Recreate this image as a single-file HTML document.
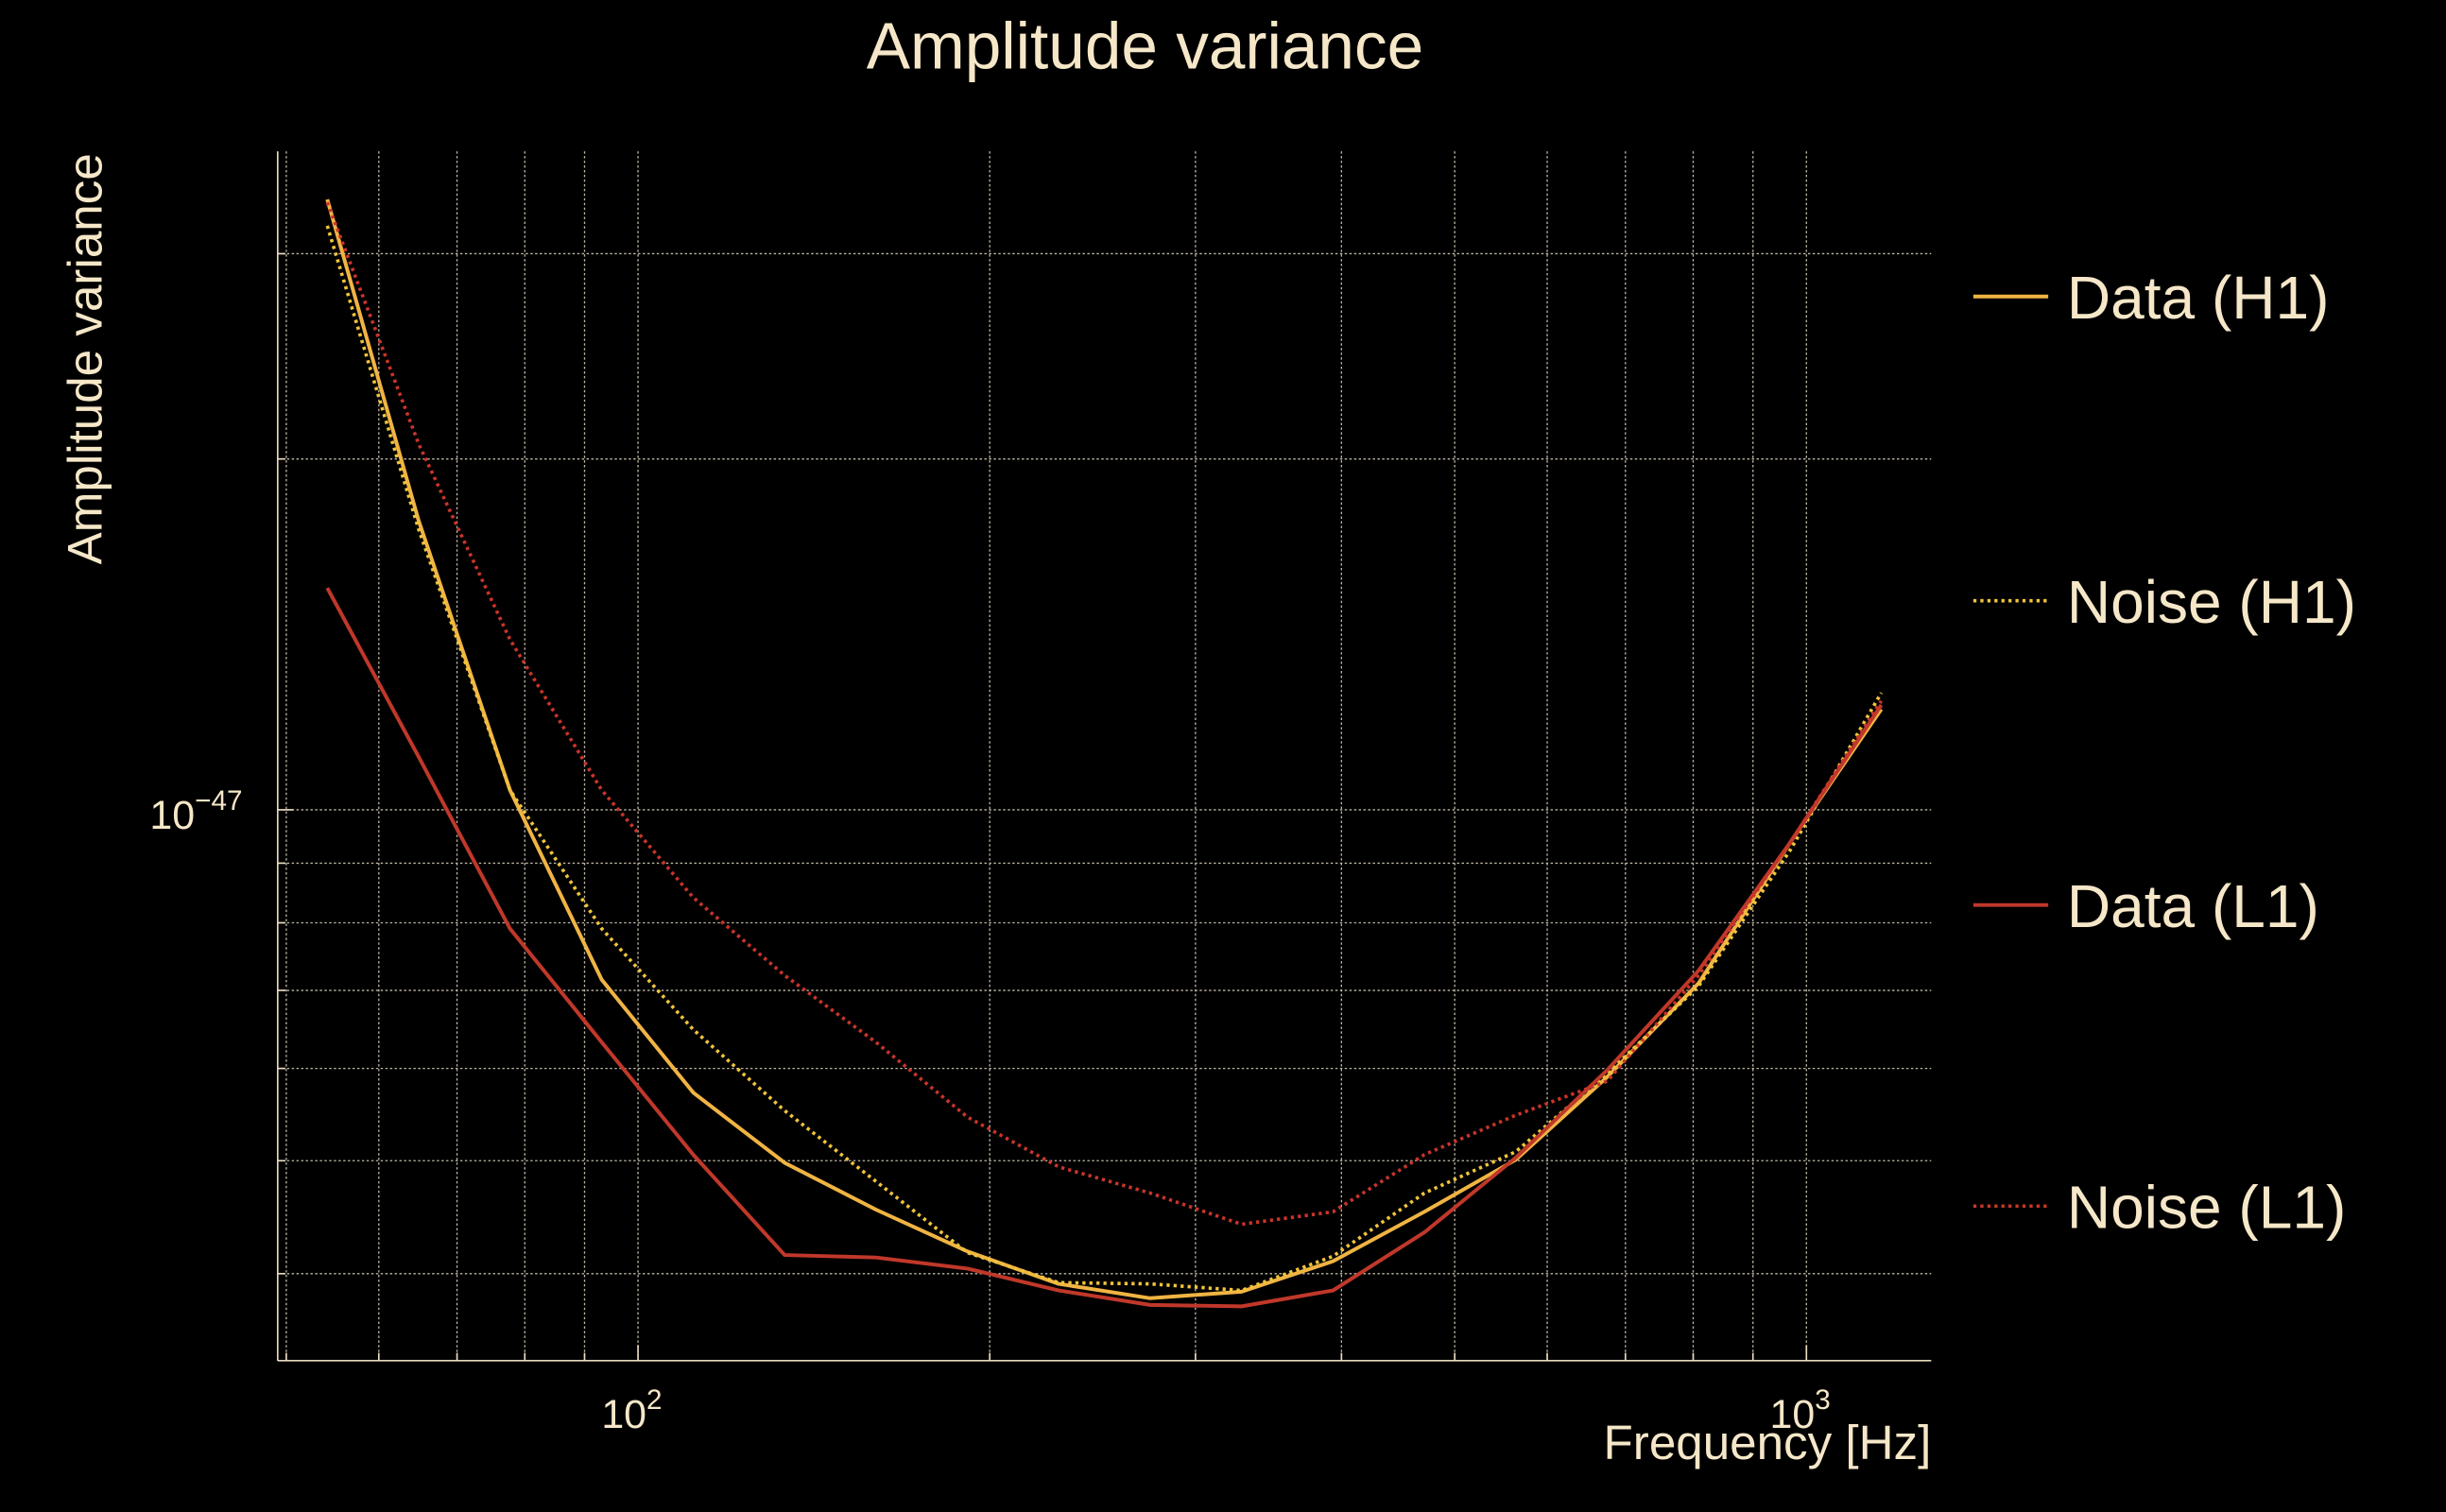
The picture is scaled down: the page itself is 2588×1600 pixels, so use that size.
<!DOCTYPE html>
<html><head><meta charset="utf-8"><style>
html,body{margin:0;padding:0;background:#000;}
svg{display:block;}
text{font-family:"Liberation Sans",sans-serif;fill:#f5e7c8;}
</style></head><body>
<svg id="chart" width="2588" height="1600" viewBox="0 0 1568 969" preserveAspectRatio="none" xmlns="http://www.w3.org/2000/svg">
<rect width="1568" height="969" fill="#000"/>
<text x="734" y="44" font-size="42" text-anchor="middle">Amplitude variance</text>
<text transform="translate(65,230) rotate(-90)" font-size="31" text-anchor="middle">Amplitude variance</text>
<text x="1238" y="935" font-size="31" text-anchor="end">Frequency [Hz]</text>
<g id="grid"></g>
<g id="axes"></g>
<g id="series"></g>
<g id="legend"></g>
</svg>
<script>
const freqs = [54.2,64.9,77.7,93.1,111.5,133.5,159.8,191.4,229.1,274.4,328.5,393.4,471.0,564.0,675.3,808.6,968.2,1159];
// values in units of 1e-48
const dataH1 = [33.4,17.7,10.4,7.15,5.72,4.98,4.54,4.18,3.92,3.81,3.86,4.10,4.52,5.01,5.90,7.10,9.37,12.2];
const noiseH1 = [31.7,17.4,10.4,7.91,6.48,5.52,4.80,4.17,3.93,3.92,3.87,4.14,4.69,5.09,5.94,7.06,9.23,12.6];
const dataL1 = [15.5,11.1,7.91,6.32,5.06,4.15,4.13,4.04,3.87,3.76,3.75,3.87,4.34,5.03,5.98,7.28,9.37,12.3];
const noiseL1 = [33.2,20.6,14.0,10.4,8.41,7.21,6.32,5.45,4.94,4.69,4.41,4.52,5.06,5.47,5.85,7.21,9.37,12.4];
const xGrid = [50,60,70,80,90,100,200,300,400,500,600,700,800,900,1000];
const yGrid = [4,5,6,7,8,9,10,20,30];
const seriesNames = ["Data (H1)","Noise (H1)","Data (L1)","Noise (L1)"];

const NS="http://www.w3.org/2000/svg";
const X0=178,X1=1238,Y0=97,Y1=872;
function xs(f){return 409+749*(Math.log10(f)-2);}
function ys(v){return 519-747*(Math.log10(v)-1);}
function mk(tag,attrs,parent){const e=document.createElementNS(NS,tag);for(const k in attrs)e.setAttribute(k,attrs[k]);parent.appendChild(e);return e;}
const grid=document.getElementById('grid'),axes=document.getElementById('axes'),ser=document.getElementById('series'),leg=document.getElementById('legend');
xGrid.forEach(f=>{const x=xs(f);
 const l=mk('line',{x1:x,x2:x,y1:Y0,y2:Y1,stroke:'#bdb6a4','stroke-width':0.8,'stroke-dasharray':'1.5,1.5'},grid);
 
 
 const t=mk('line',{x1:x,x2:x,y1:Y1,y2:Y1-([100,1000].includes(f)?10:5),stroke:'#e8dcc0','stroke-width':1},axes);
 
 
});
yGrid.forEach(v=>{const y=ys(v);
 const l=mk('line',{x1:X0,x2:X1,y1:y,y2:y,stroke:'#bdb6a4','stroke-width':0.8,'stroke-dasharray':'1.5,1.5'},grid);
 
 
 const t=mk('line',{x1:X0,x2:X0+(v===10?10:5),y1:y,y2:y,stroke:'#e8dcc0','stroke-width':1},axes);
 
 
});
let a=mk('line',{x1:X0,x2:X0,y1:Y0,y2:Y1,stroke:'#e8dcc0','stroke-width':1},axes);


a=mk('line',{x1:X0,x2:X1,y1:Y1,y2:Y1,stroke:'#e8dcc0','stroke-width':1},axes);


function powLabel(x,y,exp,anchor,name){const t=mk('text',{x:x,y:y,'font-size':26,'text-anchor':anchor},axes);
 
 
 t.textContent='10';const s=mk('tspan',{dy:-12,'font-size':18},t);s.textContent=exp;}
powLabel(xs(100)-4,915,'2','middle','x-tick-label-100');
powLabel(xs(1000)-4,915,'3','middle','x-tick-label-1000');
powLabel(96,531,'\u221247','start','y-tick-label-1e-47');
const styles=[{c:'#f0b443',d:null,w:2.4},{c:'#f0c43c',d:'2,2.5',w:2.2},{c:'#c0382a',d:null,w:2.4},{c:'#c8352b',d:'2,2.5',w:2.2}];
const allSeries=[dataH1,noiseH1,dataL1,noiseL1];
const names=['data-h1-line','noise-h1-line','data-l1-line','noise-l1-line'];
allSeries.forEach((vals,k)=>{
 const pts=vals.map((v,i)=>xs(freqs[i]).toFixed(1)+','+ys(v).toFixed(1)).join(' ');
 const st=styles[k];
 const p=mk('polyline',{points:pts,fill:'none',stroke:st.c,'stroke-width':st.w,'stroke-linejoin':'round'},ser);
 if(st.d)p.setAttribute('stroke-dasharray',st.d);
 
 
});
const ly=[190,385,580,773];
seriesNames.forEach((n,k)=>{const st=styles[k];
 const l=mk('line',{x1:1265,x2:1313,y1:ly[k],y2:ly[k],stroke:st.c,'stroke-width':st.w},leg);
 if(st.d)l.setAttribute('stroke-dasharray',st.d);
 
 
 const t=mk('text',{x:1325,y:ly[k]+14,'font-size':38.8},leg);
 t.textContent=n;
 
 
});
</script>
</body></html>
